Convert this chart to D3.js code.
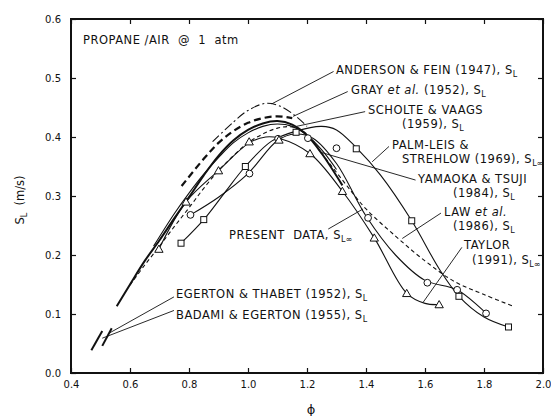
<!DOCTYPE html>
<html><head><meta charset="utf-8">
<script src="https://cdn.jsdelivr.net/npm/d3@7"></script>
<style>
body{margin:0;background:#fff}
svg{display:block}
text{font-family:"DejaVu Sans",sans-serif;fill:#111}
</style>
</head><body>
<svg id="c" width="551" height="416"></svg>
<script>
// ---- data ----
const xTicks = [0.4,0.6,0.8,1.0,1.2,1.4,1.6,1.8,2.0];
const xTickLabels = ["0.4","0.6","0.8","1.0","1.2","1.4","1.6","1.8","2.0"];
const yTicks = [0,0.1,0.2,0.3,0.4,0.5,0.6];
const yTickLabels = ["0.0","0.1","0.2","0.3","0.4","0.5","0.6"];

const andersonFein = [[0.88,0.392],[0.95,0.425],[1.0,0.445],[1.06,0.457],[1.11,0.452],[1.16,0.436],[1.2,0.418]];
const grayEtAl = [[0.775,0.317],[0.85,0.363],[0.9,0.39],[0.95,0.41],[1.0,0.424],[1.05,0.432],[1.1,0.435],[1.15,0.432]];
const scholteVaags = [[0.68,0.215],[0.75,0.27],[0.8,0.305],[0.85,0.337],[0.9,0.365],[0.95,0.39],[1.0,0.407],[1.05,0.418],[1.1,0.422],[1.15,0.418],[1.2,0.403],[1.25,0.378],[1.3,0.345]];
const yamaokaTsuji = [[0.555,0.113],[0.6,0.15],[0.65,0.19],[0.7,0.225],[0.75,0.262],[0.8,0.298],[0.85,0.335],[0.9,0.368],[0.95,0.394],[1.0,0.412],[1.05,0.423],[1.1,0.427],[1.15,0.421],[1.2,0.403],[1.25,0.372],[1.32,0.318]];
const lawEtAl = [[0.6,0.149],[0.65,0.183],[0.7,0.215],[0.75,0.248],[0.8,0.28],[0.85,0.313],[0.9,0.343],[0.95,0.368],[1.0,0.39],[1.05,0.405],[1.1,0.415],[1.15,0.417],[1.2,0.405],[1.25,0.372],[1.3,0.34],[1.35,0.308],[1.4,0.278],[1.5,0.232],[1.6,0.19],[1.7,0.155],[1.8,0.133],[1.9,0.113]];
const presentCurve = [[0.805,0.268],[0.9,0.298],[1.0,0.338],[1.1,0.394],[1.16,0.405],[1.22,0.398],[1.3,0.355],[1.4,0.266],[1.5,0.2],[1.6,0.157],[1.709,0.141],[1.807,0.101]];
const presentPts = [[0.805,0.268],[1.005,0.338],[1.102,0.397],[1.203,0.398],[1.3,0.381],[1.407,0.263],[1.608,0.153],[1.709,0.141],[1.807,0.101]];
const palmLeisCurve = [[0.773,0.22],[0.85,0.26],[0.92,0.305],[0.991,0.35],[1.08,0.393],[1.163,0.41],[1.25,0.418],[1.3,0.412],[1.367,0.382],[1.45,0.335],[1.555,0.258],[1.65,0.175],[1.715,0.13],[1.8,0.095],[1.883,0.078]];
const palmLeisPts = [[0.773,0.22],[0.85,0.26],[0.991,0.35],[1.163,0.408],[1.367,0.38],[1.555,0.258],[1.715,0.13],[1.883,0.078]];
const taylorCurve = [[0.698,0.21],[0.79,0.29],[0.9,0.343],[1.004,0.39],[1.06,0.4],[1.105,0.398],[1.21,0.372],[1.32,0.308],[1.428,0.229],[1.538,0.135],[1.6,0.118],[1.648,0.116]];
const taylorPts = [[0.698,0.21],[0.79,0.29],[0.9,0.343],[1.004,0.392],[1.105,0.395],[1.21,0.372],[1.32,0.308],[1.428,0.229],[1.538,0.135],[1.648,0.116]];
const egertonThabet = [[0.469,0.0385],[0.506,0.071]];
const badamiEgerton = [[0.506,0.046],[0.538,0.076]];

// annotation leader lines: [start, end] in data units
const leaders = [
  [[1.29,0.511],[1.08,0.456]],
  [[1.338,0.477],[1.153,0.435]],
  [[1.397,0.443],[1.164,0.418]],
  [[1.478,0.384],[1.421,0.358]],
  [[1.568,0.327],[1.247,0.374]],
  [[1.654,0.271],[1.523,0.228]],
  [[1.725,0.213],[1.594,0.12]],
  [[1.272,0.244],[1.39,0.278]],
  [[0.749,0.129],[0.531,0.068]],
  [[0.749,0.106],[0.506,0.059]]
];

// ---- drawing ----
const svg = d3.select("#c");
const x = d3.scaleLinear().domain([0.4,2.0]).range([71,543]);
const y = d3.scaleLinear().domain([0,0.6]).range([373,19]);

const line = d3.line().x(d=>x(d[0])).y(d=>y(d[1])).curve(d3.curveCatmullRom.alpha(0.5));
const straight = d3.line().x(d=>x(d[0])).y(d=>y(d[1]));

function axisStyle(g){
  g.select(".domain").remove();
  g.selectAll(".tick line").attr("stroke","#111").attr("stroke-width",1.2);
  g.selectAll("text").attr("font-size",10).attr("font-family","DejaVu Sans, sans-serif").attr("fill","#111");
}
svg.append("g").attr("transform","translate(0,373)")
  .call(d3.axisBottom(x).tickValues(xTicks).tickFormat((d,i)=>xTickLabels[i]).tickSizeInner(-5).tickSizeOuter(0).tickPadding(8))
  .call(axisStyle);
svg.append("g").attr("transform","translate(0,19)")
  .call(d3.axisTop(x).tickValues(xTicks).tickFormat("").tickSizeInner(-5).tickSizeOuter(0))
  .call(axisStyle);
svg.append("g").attr("transform","translate(71,0)")
  .call(d3.axisLeft(y).tickValues(yTicks).tickFormat((d,i)=>yTickLabels[i]).tickSizeInner(-5).tickSizeOuter(0).tickPadding(10))
  .call(axisStyle);
svg.append("g").attr("transform","translate(543,0)")
  .call(d3.axisRight(y).tickValues(yTicks).tickFormat("").tickSizeInner(-5).tickSizeOuter(0))
  .call(axisStyle);

// frame
svg.append("rect").attr("x",x(0.4)).attr("y",y(0.6)).attr("width",x(2.0)-x(0.4)).attr("height",y(0)-y(0.6))
  .attr("fill","none").attr("stroke","#111").attr("stroke-width",2);

// curves
const curves = [
  {d:andersonFein, w:1.1, dash:"9,3,2,3"},
  {d:grayEtAl, w:2.2, dash:"7,4"},
  {d:scholteVaags, w:1.1, dash:null},
  {d:yamaokaTsuji, w:2.0, dash:null},
  {d:lawEtAl, w:1.1, dash:"4,3"},
  {d:presentCurve, w:1.1, dash:null},
  {d:palmLeisCurve, w:1.1, dash:null},
  {d:taylorCurve, w:1.1, dash:null}
];
curves.forEach(c=>{
  svg.append("path").attr("d",line(c.d)).attr("fill","none").attr("stroke","#111")
    .attr("stroke-width",c.w).attr("stroke-dasharray",c.dash);
});
[egertonThabet,badamiEgerton].forEach(s=>{
  svg.append("path").attr("d",straight(s)).attr("fill","none").attr("stroke","#111").attr("stroke-width",2);
});

// leaders
svg.append("g").selectAll("line").data(leaders).join("line")
  .attr("x1",d=>x(d[0][0])).attr("y1",d=>y(d[0][1]))
  .attr("x2",d=>x(d[1][0])).attr("y2",d=>y(d[1][1]))
  .attr("stroke","#111").attr("stroke-width",0.9);

// markers
svg.append("g").selectAll("circle").data(presentPts).join("circle")
  .attr("cx",d=>x(d[0])).attr("cy",d=>y(d[1])).attr("r",3.4)
  .attr("fill","#fff").attr("stroke","#111").attr("stroke-width",1);
svg.append("g").selectAll("rect").data(palmLeisPts).join("rect")
  .attr("x",d=>x(d[0])-3).attr("y",d=>y(d[1])-3).attr("width",6).attr("height",6)
  .attr("fill","#fff").attr("stroke","#111").attr("stroke-width",1);
const tri = d3.symbol().type(d3.symbolTriangle).size(30);
svg.append("g").selectAll("path").data(taylorPts).join("path")
  .attr("d",tri).attr("transform",d=>`translate(${x(d[0])},${y(d[1])+0.8})`)
  .attr("fill","#fff").attr("stroke","#111").attr("stroke-width",1);

// labels
const fs = 11.5, ls = 0.5;
function label(px,py,parts){
  const t = svg.append("text").attr("x",px).attr("y",py).attr("font-size",fs)
    .attr("letter-spacing",ls).style("white-space","pre");
  parts.forEach(p=>{
    const s = t.append("tspan").text(p.t);
    if(p.i) s.attr("font-style","italic");
    if(p.sub){ s.attr("font-size",8).attr("dy",3).attr("letter-spacing",0); }
    if(p.up){ s.attr("dy",-3); }
  });
  return t;
}
label(83,43.5,[{t:"PROPANE /AIR  @  1  atm"}]);
label(336,74,[{t:"ANDERSON & FEIN (1947), S"},{t:"L",sub:1}]);
label(351,93.5,[{t:"GRAY "},{t:"et al.",i:1},{t:" (1952), S"},{t:"L",sub:1}]);
label(368,114,[{t:"SCHOLTE & VAAGS"}]);
label(402,128,[{t:"(1959), S"},{t:"L",sub:1}]);
label(392,149,[{t:"PALM-LEIS &"}]);
label(402,162.5,[{t:"STREHLOW (1969), S"},{t:"L∞",sub:1}]);
label(418,182.5,[{t:"YAMAOKA & TSUJI"}]);
label(453,196.5,[{t:"(1984), S"},{t:"L",sub:1}]);
label(444,216,[{t:"LAW "},{t:"et al.",i:1}]);
label(453,230,[{t:"(1986), S"},{t:"L",sub:1}]);
label(464,249,[{t:"TAYLOR"}]);
label(472,264,[{t:"(1991), S"},{t:"L∞",sub:1}]);
label(229,239,[{t:"PRESENT  DATA, S"},{t:"L∞",sub:1}]);
label(176,297.5,[{t:"EGERTON & THABET (1952), S"},{t:"L",sub:1}]);
label(176,319,[{t:"BADAMI & EGERTON (1955), S"},{t:"L",sub:1}]);

// axis titles
svg.append("text").attr("x",311).attr("y",414).attr("text-anchor","middle").attr("font-size",13).text("ϕ");
const yt = svg.append("text").attr("transform","translate(24,200) rotate(-90)").attr("text-anchor","middle").attr("font-size",11.5);
yt.append("tspan").text("S");
yt.append("tspan").text("L").attr("font-size",8).attr("dy",3);
yt.append("tspan").text("  (m/s)").attr("dy",-3).style("white-space","pre");
</script>
</body></html>
